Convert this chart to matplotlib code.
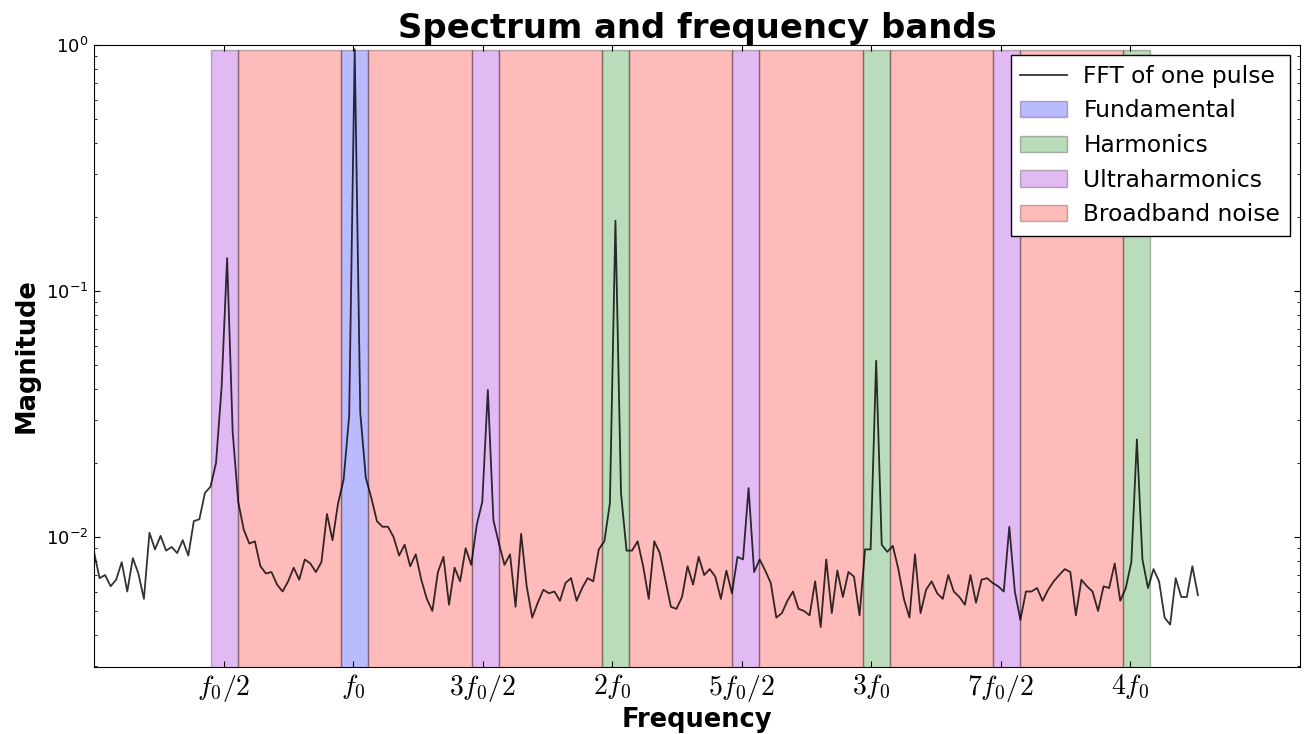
"""Spectrum of one pulse with fundamental / harmonic / ultraharmonic / noise bands."""
import matplotlib
matplotlib.use("Agg")
import matplotlib.pyplot as plt
import numpy as np

plt.rcParams["mathtext.fontset"] = "cm"

# ---------- data ----------
# FFT magnitude of one pulse, one value per frequency bin (bin spacing df, in units of f0)
df = 0.02141
magnitude = [
    0.0087, 0.0068, 0.0070, 0.0063, 0.0067, 0.0079, 0.0060, 0.0082, 0.0071, 0.0056,
    0.0104, 0.0089, 0.0101, 0.0088, 0.0091, 0.0086, 0.0097, 0.0084, 0.0116, 0.0118,
    0.0151, 0.0160, 0.0200, 0.0405, 0.136, 0.0267, 0.0139, 0.0107, 0.0094, 0.0096,
    0.0076, 0.0071, 0.0072, 0.0064, 0.0060, 0.0066, 0.0075, 0.0067, 0.0081, 0.0078,
    0.0072, 0.0079, 0.0124, 0.0097, 0.0137, 0.0171, 0.031, 0.96, 0.032, 0.0174,
    0.0144, 0.0116, 0.0110, 0.0110, 0.0100, 0.0084, 0.0093, 0.0076, 0.0085, 0.0067,
    0.0056, 0.0050, 0.0072, 0.0083, 0.0053, 0.0075, 0.0066, 0.0090, 0.0077, 0.0112,
    0.0139, 0.0396, 0.0117, 0.0094, 0.0077, 0.0085, 0.0052, 0.0103, 0.0063, 0.0047,
    0.0054, 0.0061, 0.0059, 0.0060, 0.0055, 0.0065, 0.0068, 0.0055, 0.0062, 0.0068,
    0.0066, 0.0089, 0.0096, 0.0137, 0.193, 0.0151, 0.0088, 0.0088, 0.0096, 0.0076,
    0.0056, 0.0096, 0.0086, 0.0067, 0.0052, 0.0051, 0.0057, 0.0076, 0.0064, 0.0083,
    0.0070, 0.0074, 0.0069, 0.0056, 0.0073, 0.0059, 0.0083, 0.0081, 0.0158, 0.0072,
    0.0081, 0.0073, 0.0065, 0.0047, 0.0049, 0.0055, 0.0060, 0.0051, 0.0050, 0.0048,
    0.0066, 0.0043, 0.0081, 0.0049, 0.0073, 0.0057, 0.0072, 0.0069, 0.0048, 0.0089,
    0.0089, 0.052, 0.0093, 0.0087, 0.0092, 0.0074, 0.0056, 0.0047, 0.0085, 0.0049,
    0.0061, 0.0066, 0.0059, 0.0056, 0.0070, 0.0060, 0.0057, 0.0053, 0.0070, 0.0054,
    0.0067, 0.0068, 0.0065, 0.0063, 0.0060, 0.0110, 0.0060, 0.0046, 0.0060, 0.0060,
    0.0062, 0.0055, 0.0061, 0.0066, 0.0070, 0.0074, 0.0072, 0.0048, 0.0067, 0.0063,
    0.0060, 0.0050, 0.0063, 0.0062, 0.0078, 0.0055, 0.0062, 0.0079, 0.0249, 0.0081,
    0.0062, 0.0074, 0.0066, 0.0047, 0.0044, 0.0068, 0.0057, 0.0057, 0.0076, 0.0058,
]

# fundamental sits on bin 47; bands are centred on multiples of f/2
fund_bin = 47
band_halfwidth = 0.052
band_top = 0.95
band_kinds = ["Ultraharmonics", "Fundamental", "Ultraharmonics", "Harmonics",
              "Ultraharmonics", "Harmonics", "Ultraharmonics", "Harmonics"]

tick_mult = [0.5, 1.0, 1.5, 2.0, 2.5, 3.0, 3.5, 4.0]
tick_labels = [r"$f_0/2$", r"$f_0$", r"$3f_0/2$", r"$2f_0$",
               r"$5f_0/2$", r"$3f_0$", r"$7f_0/2$", r"$4f_0$"]

COLORS = {
    "Fundamental": "b",
    "Harmonics": "g",
    "Ultraharmonics": "darkviolet",
    "Broadband noise": "r",
}

# ---------- figure ----------
fig = plt.figure(figsize=(13.09, 7.34), dpi=100)
ax = fig.add_axes([0.0718, 0.0913, 0.9214, 0.8474])

freq = np.arange(len(magnitude)) * df
ax.plot(freq, magnitude, color="k", linewidth=1.3, alpha=0.8, label="FFT of one pulse",
        zorder=3)

f_true = fund_bin * df
centers = [f_true / 2 * (k + 1) for k in range(len(band_kinds))]
ybot = 1e-4
seen = set()
for c, kind in zip(centers, band_kinds):
    lab = kind if kind not in seen else None
    seen.add(kind)
    ax.fill_between([c - band_halfwidth, c + band_halfwidth], ybot, band_top,
                    facecolor=COLORS[kind], edgecolor="k", alpha=0.27, lw=1,
                    label=lab, zorder=1)

# broadband noise fills the gaps between neighbouring bands
for i in range(len(centers) - 1):
    lab = "Broadband noise" if i == 0 else None
    ax.fill_between([centers[i] + band_halfwidth, centers[i + 1] - band_halfwidth],
                    ybot, band_top, facecolor=COLORS["Broadband noise"],
                    edgecolor="k", alpha=0.27, lw=1, label=lab, zorder=1)

ax.set_yscale("log")
ax.set_ylim(0.00296, 1)
ax.set_xlim(0, 4.655)
ax.set_xticks(tick_mult)
ax.set_xticklabels(tick_labels)
ax.tick_params(which="both", direction="in", top=True, right=True)
ax.tick_params(which="major", length=4)
ax.tick_params(which="minor", length=2)
ax.tick_params(axis="x", labelsize=20, pad=4)
ax.tick_params(axis="y", labelsize=13, pad=4)

ax.set_xlabel("Frequency", fontsize=18.5, fontweight="bold")
ax.set_ylabel("Magnitude", fontsize=18.5, fontweight="bold")
ax.xaxis.set_label_coords(0.5, -0.064)
ax.yaxis.set_label_coords(-0.045, 0.5)
ax.set_title("Spectrum and frequency bands", fontsize=24.4, fontweight="bold", pad=3)

h, l = ax.get_legend_handles_labels()
order = ["FFT of one pulse", "Fundamental", "Harmonics", "Ultraharmonics",
         "Broadband noise"]
hs = [h[l.index(o)] for o in order]
leg = ax.legend(hs, order, loc="upper right", fontsize=16.8, fancybox=False,
                framealpha=1, edgecolor="k", borderaxespad=0.45, labelspacing=0.5,
                handletextpad=0.7)
leg.get_frame().set_linewidth(1)

fig.savefig("out.png", dpi=100, facecolor="white")
